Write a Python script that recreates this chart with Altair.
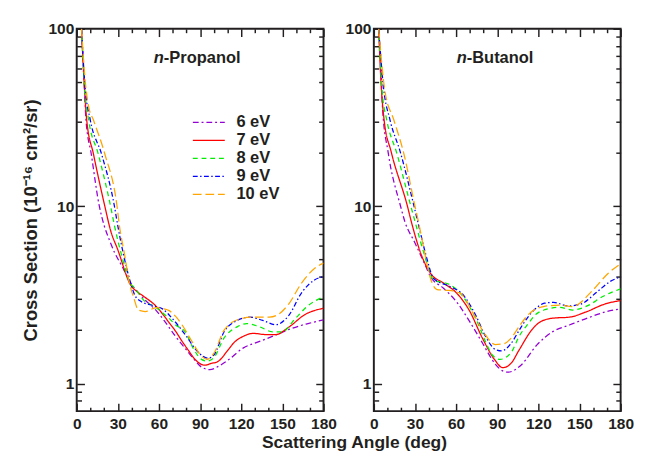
import altair as alt
import pandas as pd

FONT = "Liberation Sans"
INK = "#231f20"

SERIES = ["6 eV", "7 eV", "8 eV", "9 eV", "10 eV"]
COLORS = ["#9400D3", "#FF0000", "#00EE00", "#0000FF", "#FFA500"]
DASHES = [[6, 3, 2, 3], [1, 0], [5, 4], [5, 2.5, 1.5, 2.5], [9, 4]]

X_MAJOR = [0, 30, 60, 90, 120, 150, 180]
X_MINOR = [10, 20, 40, 50, 70, 80, 100, 110, 130, 140, 160, 170]
Y_MAJOR = [1, 10, 100]
Y_MINOR = [0.8, 0.9, 2, 3, 4, 5, 6, 7, 8, 9, 20, 30, 40, 50, 60, 70, 80, 90]

# ---- n-Propanol ----
prop_6_ang = [3.5, 5.6, 6.7, 10.6, 16.5, 20, 24, 27.5, 33, 39.3, 45, 50, 58, 65, 72, 80, 86, 91, 97, 104, 110, 121.6, 133.4, 145.2, 156.9, 168.7, 180]
prop_6_val = [100, 47, 31, 19.7, 10, 7.8, 6.4, 5.5, 4.6, 3.7, 3.25, 2.95, 2.58, 2.2, 1.85, 1.55, 1.36, 1.24, 1.20, 1.26, 1.35, 1.59, 1.73, 1.88, 2.05, 2.18, 2.29]
prop_7_ang = [3.5, 5.5, 7.3, 12.2, 20.5, 24.7, 29.9, 39.3, 44, 48.7, 58.1, 63, 67.5, 72, 76.9, 81.7, 86.3, 93.4, 98.1, 102.8, 109.9, 114.6, 121.6, 128.7, 138.1, 145.2, 154.6, 166.4, 180]
prop_7_val = [100, 48, 30.6, 19.7, 10, 7.3, 5.7, 3.6, 3.3, 3.11, 2.72, 2.45, 2.2, 1.98, 1.73, 1.53, 1.37, 1.27, 1.30, 1.33, 1.53, 1.70, 1.85, 1.92, 1.89, 1.89, 2.08, 2.45, 2.66]
prop_8_ang = [3.5, 5.6, 8.7, 15.7, 24.7, 27.5, 33, 39.3, 41.6, 51, 56, 62.8, 67, 72.2, 79.3, 85, 91, 95, 100, 107.5, 117, 124, 133.4, 142.8, 149.9, 159.3, 168.7, 180]
prop_8_val = [100, 48, 30.6, 19.7, 10, 7.8, 5.2, 3.65, 3.5, 2.85, 2.75, 2.5, 2.35, 2.14, 1.95, 1.58, 1.37, 1.34, 1.40, 1.81, 2.09, 2.18, 2.09, 1.96, 1.96, 2.32, 2.75, 3.09]
prop_9_ang = [3.5, 6, 9.9, 18.1, 27.5, 29.9, 34, 39.3, 42, 46.4, 55.8, 62.8, 69.9, 79.3, 88.7, 95.8, 100, 107.5, 117, 126.4, 135.7, 145.2, 154.6, 164, 173.4, 180]
prop_9_val = [100, 48, 30.6, 19.7, 10, 7.8, 5.4, 3.7, 3.2, 2.92, 2.75, 2.63, 2.32, 1.88, 1.50, 1.39, 1.45, 1.96, 2.27, 2.37, 2.27, 2.15, 2.42, 3.25, 3.84, 4.01]
prop_10_ang = [3.5, 6.5, 8.5, 12.2, 20.5, 29.4, 31.1, 35, 38.1, 41.6, 45, 50, 58, 63, 67.5, 72, 76.9, 84, 91, 95, 100, 107.5, 119.3, 128.7, 140.5, 147.5, 154.6, 164, 173.4, 180]
prop_10_val = [100, 48, 37, 30.6, 19.7, 10, 7.8, 5.3, 3.8, 3.05, 2.6, 2.55, 2.68, 2.65, 2.58, 2.4, 2.14, 1.73, 1.43, 1.37, 1.48, 2.0, 2.32, 2.37, 2.37, 2.47, 2.81, 3.69, 4.46, 4.78]

# ---- n-Butanol ----
but_6_ang = [3.5, 5.6, 6.4, 10.4, 19.5, 22.6, 29.6, 36.7, 41.4, 50.8, 60.2, 69.7, 79.1, 88.5, 94, 97.9, 107.3, 119.1, 130.8, 142.6, 154.4, 168.5, 180]
but_6_val = [100, 50, 35, 20.2, 10, 8.2, 6.3, 4.8, 4.01, 3.45, 2.9, 2.25, 1.70, 1.29, 1.18, 1.16, 1.27, 1.66, 1.97, 2.14, 2.32, 2.53, 2.64]
but_7_ang = [3.5, 5.2, 7.5, 12.7, 24.5, 27.3, 34.4, 41.4, 50.8, 60.2, 69.7, 79.1, 88.5, 94, 100, 106, 115, 121.4, 130.8, 142.6, 154.4, 168.5, 180]
but_7_val = [100, 50, 30.6, 20.2, 10, 8.2, 5.38, 4.18, 3.69, 3.25, 2.58, 1.81, 1.35, 1.23, 1.30, 1.55, 2.0, 2.23, 2.34, 2.37, 2.53, 2.81, 2.94]
but_8_ang = [3.5, 6, 9.4, 16.5, 27, 30.8, 36, 43.8, 55.5, 64.9, 74.4, 81.4, 86.1, 92, 100.2, 106, 112, 118, 124, 135, 145, 156, 167, 180]
but_8_val = [100, 45, 30.6, 20.2, 10, 7.8, 5.6, 3.84, 3.61, 3.11, 2.32, 1.73, 1.46, 1.37, 1.50, 1.85, 2.15, 2.45, 2.6, 2.69, 2.6, 2.75, 3.1, 3.42]
but_9_ang = [3.5, 7, 11.8, 19.3, 29.3, 33.2, 38, 43.8, 55.5, 64.9, 74.4, 81.4, 88.5, 93.2, 100, 106, 112, 118, 124.5, 131, 142, 151, 163, 172, 180]
but_9_val = [100, 47, 30.6, 20.2, 10, 7.5, 5.3, 3.9, 3.53, 3.18, 2.42, 1.85, 1.56, 1.53, 1.68, 2.0, 2.35, 2.65, 2.84, 2.87, 2.74, 2.81, 3.3, 3.75, 4.0]
but_10_ang = [3.5, 8, 14.6, 21.6, 30, 32.5, 37, 41.4, 46.1, 53.2, 62.6, 72, 81.4, 88.5, 95, 100, 106, 112, 123.7, 135.5, 144.9, 159, 170.8, 180]
but_10_val = [100, 45, 30.6, 20.2, 10, 8.2, 5.5, 3.9, 3.39, 3.36, 3.25, 2.53, 1.88, 1.66, 1.68, 1.80, 2.1, 2.42, 2.72, 2.77, 2.72, 3.32, 4.18, 4.74]

PROP = [(prop_6_ang, prop_6_val), (prop_7_ang, prop_7_val), (prop_8_ang, prop_8_val),
        (prop_9_ang, prop_9_val), (prop_10_ang, prop_10_val)]
BUT = [(but_6_ang, but_6_val), (but_7_ang, but_7_val), (but_8_ang, but_8_val),
       (but_9_ang, but_9_val), (but_10_ang, but_10_val)]


def frame(curves):
    rows = []
    for name, (angs, vals) in zip(SERIES, curves):
        for a, v in zip(angs, vals):
            rows.append({"angle": a, "value": v, "series": name})
    return pd.DataFrame(rows)


XS = alt.Scale(domain=[0, 180], nice=False, zero=False)
YS = alt.Scale(type="log", domain=[0.7, 100], nice=False)
ANCHOR = pd.DataFrame({"angle": [90], "value": [10]})


def tick_axis(orient, values, size):
    return alt.Axis(orient=orient, values=values, labels=False, ticks=True,
                    tickSize={"expr": str(-size)}, tickWidth=1.5, tickColor=INK,
                    domain=False, grid=False, title=None)


def axis_layer(ax_x, ax_y):
    return alt.Chart(ANCHOR).mark_point(opacity=0).encode(
        x=alt.X("angle:Q", scale=XS, axis=ax_x),
        y=alt.Y("value:Q", scale=YS, axis=ax_y),
    )


def txt(s, x, y, align="left", style="normal", size=17, baseline="alphabetic"):
    return alt.Chart(pd.DataFrame({"t": [s]})).mark_text(
        align=align, baseline=baseline, font=FONT, fontSize=size, fontWeight="bold",
        fontStyle=style, color=INK,
    ).encode(x=alt.value(x), y=alt.value(y), text="t:N")


def panel(curves, name, name_x, ytitle, extra):
    df = frame(curves)
    lines = alt.Chart(df).mark_line(clip=True, strokeWidth=1.3, interpolate="monotone").encode(
        x=alt.X("angle:Q", scale=XS, axis=None),
        y=alt.Y("value:Q", scale=YS, axis=None),
        color=alt.Color("series:N", scale=alt.Scale(domain=SERIES, range=COLORS), legend=None),
        strokeDash=alt.StrokeDash("series:N", scale=alt.Scale(domain=SERIES, range=DASHES), legend=None),
        order=alt.Order("angle:Q"),
    )
    lab_x = alt.Axis(orient="bottom", values=X_MAJOR, ticks=False, domain=False, grid=False,
                     labelPadding=5, title=None, labelFlush=False)
    lab_y = alt.Axis(orient="left", values=Y_MAJOR, ticks=False, domain=False, grid=False,
                     labelPadding=3, format="d", title=ytitle if ytitle else None,
                     titlePadding=8, titleFontSize=19, titleFont=FONT, titleFontWeight="bold",
                     titleColor=INK)
    layers = [
        axis_layer(lab_x, lab_y),
        axis_layer(tick_axis("bottom", X_MAJOR, 8), tick_axis("left", Y_MAJOR, 8)),
        axis_layer(tick_axis("bottom", X_MINOR, 4), tick_axis("left", Y_MINOR, 5)),
        axis_layer(tick_axis("top", X_MAJOR, 8), tick_axis("right", Y_MAJOR, 8)),
        axis_layer(tick_axis("top", X_MINOR, 4), tick_axis("right", Y_MINOR, 5)),
        lines,
        txt("n", name_x, 35, align="right", style="italic"),
        txt("-" + name, name_x, 35),
    ] + extra
    return alt.layer(*layers).resolve_axis(x="independent", y="independent").properties(
        width=255, height=395)


legend_layers = []
for i, s in enumerate(SERIES):
    yy = 96.7 + i * 18.6
    legend_layers.append(
        alt.Chart(pd.DataFrame({"s": [s]})).mark_rule(
            color=COLORS[i], strokeDash=DASHES[i], strokeWidth=1.3
        ).encode(x=alt.value(120), x2=alt.value(153), y=alt.value(yy))
    )
    legend_layers.append(txt(s, 165, yy, baseline="middle"))

legend_layers.append(txt("Scattering Angle (deg)", 287, 433, align="center", size=18))

left = panel(PROP, "Propanol", 90, "Cross Section (10\u207b\u00b9\u2076 cm\u00b2/sr)", legend_layers)
right = panel(BUT, "Butanol", 96, None, [])

chart = alt.hconcat(left, right, spacing=52, bounds="flush").properties(
    padding={"left": 13, "top": 5, "right": 5, "bottom": 0}
).configure_view(stroke=INK, strokeWidth=2).configure_axis(
    labelFont=FONT, labelFontSize=16, labelFontWeight="bold", labelColor=INK
)

chart.save("out.html", embed_options={"renderer": "svg", "actions": False})
